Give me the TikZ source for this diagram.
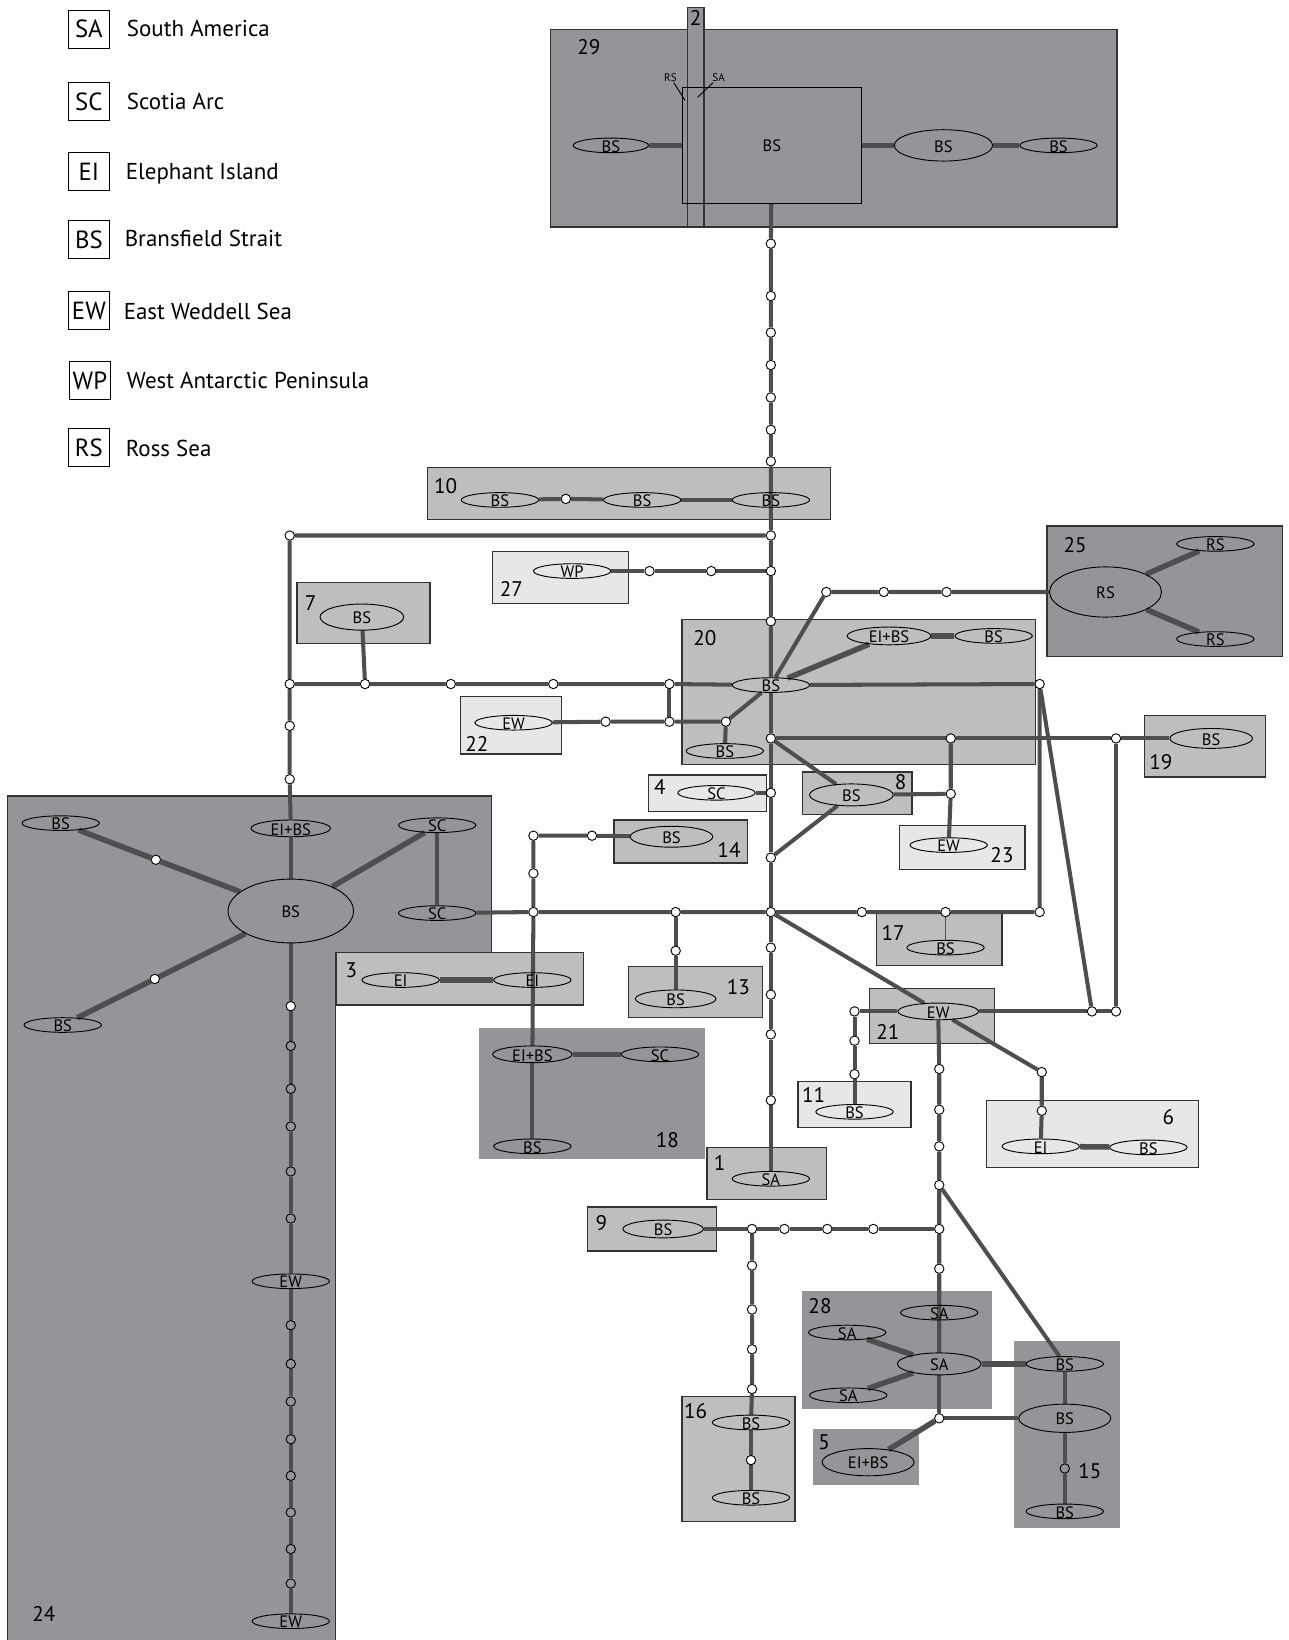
\documentclass[tikz,border=0pt]{standalone}
\usepackage{fontspec}
\setmainfont{PT Sans}
\usetikzlibrary{shapes.geometric}
\definecolor{boxdark}{RGB}{147,149,152}
\definecolor{boxmid}{RGB}{188,190,192}
\definecolor{boxlight}{RGB}{230,231,232}
\definecolor{linkgray}{RGB}{78,78,80}
\definecolor{rimgray}{RGB}{50,50,52}
\pgfdeclarelayer{boxes}
\pgfdeclarelayer{links}
\pgfsetlayers{boxes,links,main}
\tikzset{
  dk/.style={fill=boxdark,draw=rimgray,line width=0.7pt},
  dkbare/.style={fill=boxdark},
  md/.style={fill=boxmid,draw=rimgray,line width=0.7pt},
  lt/.style={fill=boxlight,draw=rimgray,line width=0.7pt},
  num/.style={font=\fontsize{11.5}{12}\selectfont,inner sep=0pt,text height=8pt,text depth=0pt},
  htxt/.style={font=\fontsize{9}{9}\selectfont,inner sep=0pt,yshift=-0.5pt},
  hap/.style={ellipse,draw=black,line width=0.5pt,inner sep=0pt,
    minimum width=1.48cm,minimum height=0.28cm,label={[htxt]center:#1}},
  hw/.style={minimum width=#1*0.02cm},
  hh/.style={minimum height=#1*0.02cm},
  dot/.style={circle,draw=black,fill=white,line width=0.5pt,inner sep=0pt,minimum size=0.18cm},
  dotdk/.style={dot,fill=boxdark},
  link/.style={draw=linkgray,line width=2.2pt},
  fat/.style={draw=linkgray,line width=3pt},
  slim/.style={draw=linkgray,line width=0.7pt},
  key/.style={draw=black,line width=0.6pt,inner sep=0pt,minimum width=0.78cm,
    minimum height=0.72cm,font=\fontsize{13.5}{14}\selectfont},
  keytxt/.style={anchor=west,inner sep=0pt,text height=8.7pt,text depth=0pt,
    font=\fontsize{12.5}{13}\selectfont}
}
\begin{document}
\begin{tikzpicture}[x=0.02cm,y=-0.02cm]
\useasboundingbox (0,0) rectangle (1232,1568);

% legend
\node[key] (kSA) at (85,28) {SA};
\node[keytxt] (lSA) at (121,27) {South America};
\node[key] (kSC) at (85,97) {SC};
\node[keytxt] (lSC) at (121,97) {Scotia Arc};
\node[key] (kEI) at (85,164) {EI};
\node[keytxt] (lEI) at (120,164) {Elephant Island};
\node[key] (kBS) at (85,229) {BS};
\node[keytxt] (lBS) at (119,228) {Bransfield Strait};
\node[key] (kEW) at (85,297) {EW};
\node[keytxt] (lEW) at (118,298) {East Weddell Sea};
\node[key] (kWP) at (86,364) {WP};
\node[keytxt] (lWP) at (121,364) {West Antarctic Peninsula};
\node[key] (kRS) at (85,428) {RS};
\node[keytxt] (lRS) at (120,429) {Ross Sea};

% boxes
\begin{pgfonlayer}{boxes}
\draw[dk] (526,28) rectangle (1068,217);
\draw[dk] (657,7) rectangle (673,217);
\draw[dk] (1001,503) rectangle (1226,628);
\draw[dk] (7,761) -- (470,761) -- (470,911) -- (321,911) -- (321,1572) -- (7,1572) -- cycle;
\fill[dkbare] (458,983) rectangle (674,1108);
\fill[dkbare] (767,1234) rectangle (948,1347);
\fill[dkbare] (777,1366) rectangle (879,1420);
\fill[dkbare] (969,1282) rectangle (1071,1461);
\draw[md] (409,447) rectangle (794,497);
\draw[md] (284,557) rectangle (411,615);
\draw[md] (652,592) rectangle (990,731);
\draw[md] (1094,684) rectangle (1210,743);
\draw[md] (767,738) rectangle (872,779);
\draw[md] (587,784) rectangle (715,825);
\draw[md] (838,873) rectangle (958,923);
\draw[md] (601,924) rectangle (729,973);
\draw[md] (322,911) rectangle (558,961);
\draw[md] (831,945) rectangle (951,998);
\draw[md] (676,1097) rectangle (790,1147);
\draw[md] (562,1154) rectangle (685,1196);
\draw[md] (652,1335) rectangle (760,1455);
\draw[lt] (471,527) rectangle (601,577);
\draw[lt] (440,666) rectangle (537,721);
\draw[lt] (620,741) rectangle (733,776);
\draw[lt] (860,789) rectangle (980,831);
\draw[lt] (763,1034) rectangle (871,1078);
\draw[lt] (943,1052) rectangle (1146,1116);
\end{pgfonlayer}

% box numbers
\node[num] (n29) at (563,45) {29};
\node[num] (n2) at (665,17) {2};
\node[num] (n10) at (426,465) {10};
\node[num] (n27) at (489,563) {27};
\node[num] (n7) at (297,577) {7};
\node[num] (n20) at (674,610) {20};
\node[num] (n25) at (1028,521) {25};
\node[num] (n22) at (456,711) {22};
\node[num] (n19) at (1110,729) {19};
\node[num] (n8) at (861,748) {8};
\node[num] (n4) at (631,753) {4};
\node[num] (n14) at (697,813) {14};
\node[num] (n23) at (958,818) {23};
\node[num] (n17) at (854,892) {17};
\node[num] (n13) at (706,944) {13};
\node[num] (n3) at (336,928) {3};
\node[num] (n21) at (849,987) {21};
\node[num] (n11) at (778,1047) {11};
\node[num] (n6) at (1117,1068) {6};
\node[num] (n18) at (638,1090) {18};
\node[num] (n1) at (688,1112) {1};
\node[num] (n9) at (575,1169) {9};
\node[num] (n28) at (784,1249) {28};
\node[num] (n5) at (788,1379) {5};
\node[num] (n15) at (1042,1407) {15};
\node[num] (n16) at (665,1349) {16};
\node[num] (n24) at (42,1543) {24};

% haplotypes
\node[hap=BS,hw=72] (h29l) at (584,139) {};
\node[draw=black,line width=0.6pt,inner sep=0pt,minimum width=3.42cm,minimum height=2.22cm,
  font=\fontsize{9}{9}\selectfont] (r29) at (738,139) {BS};
\node[hap=BS,hw=94,hh=30] (h29m) at (902,139) {};
\node[hap=BS] (h29r) at (1012,139) {};
\node[font=\fontsize{6}{6}\selectfont,inner sep=0.5pt] (n29rs) at (641,74) {RS};
\node[font=\fontsize{6}{6}\selectfont,inner sep=0.5pt] (n29sa) at (687,74) {SA};
\coordinate (p29rs) at (655,96);
\coordinate (p29sa) at (667,93);

\node[hap=BS] (h10a) at (478,478) {};
\node[hap=BS] (h10b) at (614,478) {};
\node[hap=BS] (h10c) at (737,478) {};
\node[hap=WP] (h27) at (547,546) {};
\node[hap=BS,hw=80,hh=25] (h7) at (346,590) {};
\node[hap=EW] (h22) at (491,691) {};
\node[hap=BS] (h20) at (737,655) {};
\node[hap=EI+BS,hw=80,hh=17] (h20e) at (850,608) {};
\node[hap=BS] (h20f) at (950,608) {};
\node[hap=BS] (h20b) at (693,718) {};
\node[hap=RS,hw=107,hh=48] (h25) at (1057,566) {};
\node[hap=RS] (h25a) at (1162,520) {};
\node[hap=RS] (h25b) at (1162,611) {};
\node[hap=BS,hw=79,hh=19] (h19) at (1158,706) {};
\node[hap=BS,hw=80,hh=21] (h8) at (814,760) {};
\node[hap=EW] (h23) at (907,808) {};
\node[hap=SC] (h4) at (685,758) {};
\node[hap=BS,hw=79,hh=20] (h14) at (642,800) {};
\node[hap=BS] (h17) at (904,906) {};
\node[hap=BS,hw=77,hh=17] (h13) at (646,955) {};
\node[hap=EI] (h3a) at (383,937) {};
\node[hap=EI] (h3b) at (509,937) {};
\node[hap=EI+BS,hw=76,hh=16] (h18a) at (509,1008) {};
\node[hap=SC] (h18b) at (631,1008) {};
\node[hap=BS] (h18c) at (509,1096) {};
\node[hap=SA] (h1) at (737,1127) {};
\node[hap=EW,hw=77,hh=16] (h21) at (897,967) {};
\node[hap=BS] (h11) at (817,1063) {};
\node[hap=EI] (h6a) at (995,1096) {};
\node[hap=BS] (h6b) at (1098,1097) {};
\node[hap=BS,hw=77,hh=17] (h9) at (634,1175) {};
\node[hap=SA] (h28a) at (898,1255) {};
\node[hap=SA] (h28b) at (810,1274) {};
\node[hap=SA,hw=80,hh=21] (h28c) at (898,1304) {};
\node[hap=SA] (h28d) at (811,1334) {};
\node[hap=EI+BS,hw=88,hh=26] (h5) at (830,1398) {};
\node[hap=BS] (h15a) at (1018,1304) {};
\node[hap=BS,hw=88,hh=27] (h15b) at (1018,1356) {};
\node[hap=BS] (h15c) at (1018,1445) {};
\node[hap=BS] (h16a) at (718,1360) {};
\node[hap=BS] (h16b) at (718,1432) {};
\node[hap=BS] (h24a) at (58,787) {};
\node[hap=EI+BS,hw=76,hh=16] (h24b) at (278,792) {};
\node[hap=SC] (h24c) at (418,789) {};
\node[hap=SC] (h24d) at (418,873) {};
\node[hap=BS,hw=120,hh=61] (h24e) at (278,871) {};
\node[hap=BS] (h24f) at (60,980) {};
\node[hap=EW] (h24g) at (278,1225) {};
\node[hap=EW] (h24h) at (278,1550) {};

% median vectors
\node[dot] (t1) at (737,233) {}; \node[dot] (t2) at (737,283) {};
\node[dot] (t3) at (737,318) {}; \node[dot] (t4) at (737,349) {};
\node[dot] (t5) at (737,380) {}; \node[dot] (t6) at (737,411) {};
\node[dot] (t7) at (737,441) {};
\node[dot] (jA) at (737,512) {}; \node[dot] (jB) at (737,546) {};
\node[dot] (jC) at (737,594) {};
\node[dot] (d10) at (541,477) {};
\node[dot] (lA) at (277,512) {}; \node[dot] (lB) at (277,654) {};
\node[dot] (lC) at (277,694) {}; \node[dot] (lD) at (277,745) {};
\node[dot] (w1) at (621,546) {}; \node[dot] (w2) at (680,546) {};
\node[dot] (r1) at (349,654) {}; \node[dot] (r2) at (431,654) {};
\node[dot] (r3) at (529,654) {}; \node[dot] (r4) at (640,654) {};
\node[dot] (e1) at (579,690) {}; \node[dot] (e2) at (640,690) {};
\node[dot] (e3) at (694,690) {};
\node[dot] (s1) at (790,566) {}; \node[dot] (s2) at (845,566) {};
\node[dot] (s3) at (905,566) {};
\node[dot] (q1) at (994,654) {};
\node[dot] (m1) at (737,706) {}; \node[dot] (m2) at (909,706) {};
\node[dot] (m3) at (1067,706) {}; \node[dot] (m4) at (909,759) {};
\node[dot] (k1) at (737,758) {}; \node[dot] (k2) at (737,820) {};
\node[dot] (k3) at (737,872) {}; \node[dot] (k4) at (737,906) {};
\node[dot] (k5) at (737,951) {}; \node[dot] (k6) at (737,989) {};
\node[dot] (k7) at (737,1052) {};
\node[dot] (b1) at (566,799) {}; \node[dot] (b2) at (510,799) {};
\node[dot] (b3) at (510,835) {}; \node[dot] (b4) at (510,872) {};
\node[dot] (c1) at (646,872) {}; \node[dot] (c2) at (824,872) {};
\node[dot] (c3) at (904,872) {}; \node[dot] (c4) at (994,872) {};
\node[dot] (c5) at (646,909) {};
\node[dot] (g1) at (1044,967) {}; \node[dot] (g2) at (1067,967) {};
\node[dot] (f1) at (817,967) {}; \node[dot] (f2) at (817,995) {};
\node[dot] (f3) at (817,1027) {};
\node[dot] (x1) at (996,1025) {}; \node[dot] (x2) at (996,1062) {};
\node[dot] (v1) at (898,1022) {}; \node[dot] (v2) at (898,1061) {};
\node[dot] (v3) at (898,1096) {}; \node[dot] (v4) at (898,1133) {};
\node[dot] (v5) at (898,1175) {}; \node[dot] (v6) at (898,1213) {};
\node[dot] (v7) at (898,1356) {};
\node[dot] (u1) at (719,1175) {}; \node[dot] (u2) at (750,1175) {};
\node[dot] (u3) at (791,1175) {}; \node[dot] (u4) at (835,1175) {};
\node[dot] (p1) at (719,1210) {}; \node[dot] (p2) at (719,1252) {};
\node[dot] (p3) at (719,1290) {}; \node[dot] (p4) at (719,1328) {};
\node[dot] (p5) at (718,1396) {};
\node[dotdk] (o1) at (1018,1404) {};
\node[dot] (a1) at (149,822) {}; \node[dot] (a2) at (148,936) {};
\node[dot] (z1) at (278,962) {}; \node[dotdk] (z2) at (278,1000) {};
\node[dotdk] (z3) at (278,1041) {}; \node[dotdk] (z4) at (278,1077) {};
\node[dotdk] (z5) at (278,1120) {}; \node[dotdk] (z6) at (278,1165) {};
\node[dotdk] (z7) at (278,1267) {}; \node[dotdk] (z8) at (278,1304) {};
\node[dotdk] (z9) at (278,1340) {}; \node[dotdk] (z10) at (278,1376) {};
\node[dotdk] (z11) at (278,1411) {}; \node[dotdk] (z12) at (278,1446) {};
\node[dotdk] (z13) at (278,1481) {}; \node[dotdk] (z14) at (278,1514) {};

% links
\begin{pgfonlayer}{links}
\draw[fat] (h29l) -- (r29);
\draw[fat] (r29) -- (h29m);
\draw[fat] (h29m) -- (h29r);
\draw[line width=0.5pt] (n29rs) -- (p29rs);
\draw[line width=0.5pt] (n29sa) -- (p29sa);
\draw[link] (r29) -- (t1) -- (t2) -- (t3) -- (t4) -- (t5) -- (t6) -- (t7) -- (jA) -- (jB) -- (jC) -- (h20);
\draw[link] (h10a) -- (d10) -- (h10b);
\draw[link] (h10b) -- (h10c);
\draw[link] (jA) -- (lA) -- (lB) -- (lC) -- (lD) -- (h24b);
\draw[link] (h27) -- (w1) -- (w2) -- (jB);
\draw[link] (h7) -- (r1);
\draw[link] (lB) -- (r1) -- (r2) -- (r3) -- (r4) -- (h20);
\draw[link] (r4) -- (e2);
\draw[link] (h22) -- (e1) -- (e2) -- (e3) -- (h20);
\draw[link] (e3) -- (h20b);
\draw[fat] (h20) -- (h20e);
\draw[fat] (h20e) -- (h20f);
\draw[link] (h20) -- (s1) -- (s2) -- (s3) -- (h25);
\draw[fat] (h25) -- (h25a);
\draw[fat] (h25) -- (h25b);
\draw[link] (h20) -- (q1);
\draw[link] (h20) -- (m1);
\draw[link] (m1) -- (m2) -- (m3) -- (h19);
\draw[link] (m1) -- (h8);
\draw[link] (h8) -- (m4);
\draw[link] (m2) -- (m4) -- (h23);
\draw[link] (m1) -- (k1) -- (k2) -- (k3) -- (k4) -- (k5) -- (k6) -- (k7) -- (h1);
\draw[link] (h4) -- (k1);
\draw[link] (h8) -- (k2);
\draw[link] (h14) -- (b1) -- (b2) -- (b3) -- (b4) -- (h18a);
\draw[link] (h24d) -- (b4) -- (c1) -- (k3) -- (c2) -- (c3) -- (c4) -- (q1);
\draw[link] (q1) -- (g1);
\draw[link] (c1) -- (c5) -- (h13);
\draw[slim] (c3) -- (h17);
\draw[fat] (h3a) -- (h3b);
\draw[fat] (h18a) -- (h18b);
\draw[link] (h18a) -- (h18c);
\draw[link] (k3) -- (h21);
\draw[link] (h21) -- (f1) -- (f2) -- (f3) -- (h11);
\draw[link] (h21) -- (g1) -- (g2) -- (m3);
\draw[link] (h21) -- (x1) -- (x2) -- (h6a);
\draw[fat] (h6a) -- (h6b);
\draw[link] (h21) -- (v1) -- (v2) -- (v3) -- (v4) -- (v5) -- (v6) -- (h28c);
\draw[link] (h28c) -- (v7);
\draw[link] (v4) -- (h15a);
\draw[link] (h9) -- (u1) -- (u2) -- (u3) -- (u4) -- (v5);
\draw[link] (u1) -- (p1) -- (p2) -- (p3) -- (p4) -- (h16a);
\draw[link] (h16a) -- (p5) -- (h16b);
\draw[fat] (h28c) -- (h28b);
\draw[fat] (h28c) -- (h28d);
\draw[fat] (h28c) -- (h15a);
\draw[link] (v7) -- (h15b);
\draw[fat] (v7) -- (h5);
\draw[link] (h15a) -- (h15b);
\draw[link] (h15b) -- (o1) -- (h15c);
\draw[fat] (h24a) -- (a1) -- (h24e);
\draw[link] (h24b) -- (h24e);
\draw[fat] (h24c) -- (h24e);
\draw[link] (h24c) -- (h24d);
\draw[fat] (h24e) -- (a2) -- (h24f);
\draw[link] (h24e) -- (z1) -- (z2) -- (z3) -- (z4) -- (z5) -- (z6) -- (h24g);
\draw[link] (h24g) -- (z7) -- (z8) -- (z9) -- (z10) -- (z11) -- (z12) -- (z13) -- (z14) -- (h24h);
\end{pgfonlayer}
\end{tikzpicture}
\end{document}
